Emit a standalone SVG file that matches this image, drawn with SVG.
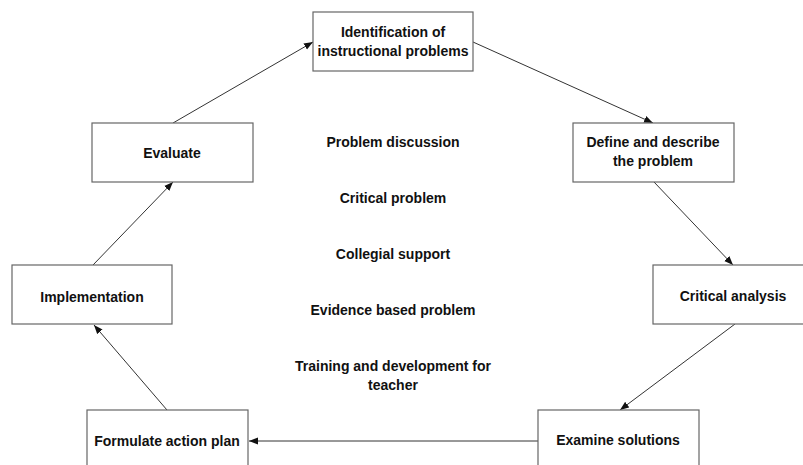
<svg xmlns="http://www.w3.org/2000/svg" width="803" height="465" viewBox="0 0 803 465">
<style>
.box{fill:#fff;stroke:#666;stroke-width:1.2}
.t{font-family:"Liberation Sans",Arial,sans-serif;font-weight:bold;font-size:14px;fill:#111;text-anchor:middle}
.c{stroke:#333;stroke-width:1;fill:none;marker-end:url(#ah)}
</style>
<defs>
<marker id="ah" markerUnits="userSpaceOnUse" markerWidth="10" markerHeight="8" refX="9" refY="4" orient="auto">
<path d="M0,0.5 L9,4 L0,7.5 Z" fill="#111"/>
</marker>
</defs>
<rect width="803" height="465" fill="#fff"/>
<g id="connectors">
<line class="c" x1="173" y1="123" x2="313" y2="42"/>
<line class="c" x1="473" y1="42" x2="653" y2="123"/>
<line class="c" x1="654" y1="182" x2="733" y2="265"/>
<line class="c" x1="735" y1="324" x2="620" y2="410"/>
<line class="c" x1="538" y1="441" x2="249" y2="441"/>
<line class="c" x1="167" y1="410" x2="94" y2="325"/>
<line class="c" x1="93" y1="265" x2="173" y2="182"/>
</g>
<g id="identification">
<rect class="box" x="313" y="12" width="160" height="59"/>
<text class="t" x="393" y="37">Identification of</text>
<text class="t" x="393" y="56">instructional problems</text>
</g>
<g id="define">
<rect class="box" x="573" y="123" width="161" height="59"/>
<text class="t" x="653" y="147">Define and describe</text>
<text class="t" x="653" y="166">the problem</text>
</g>
<g id="critical-analysis">
<rect class="box" x="653" y="265" width="160" height="59"/>
<text class="t" x="733" y="301">Critical analysis</text>
</g>
<g id="examine">
<rect class="box" x="538" y="410" width="161" height="60"/>
<text class="t" x="618" y="445">Examine solutions</text>
</g>
<g id="formulate">
<rect class="box" x="87" y="410" width="161" height="60"/>
<text class="t" x="167" y="446">Formulate action plan</text>
</g>
<g id="implementation">
<rect class="box" x="12" y="265" width="160" height="59"/>
<text class="t" x="92" y="302">Implementation</text>
</g>
<g id="evaluate">
<rect class="box" x="92" y="123" width="161" height="59"/>
<text class="t" x="172" y="158">Evaluate</text>
</g>
<g id="center-list">
<text class="t" x="393" y="147">Problem discussion</text>
<text class="t" x="393" y="203">Critical problem</text>
<text class="t" x="393" y="259">Collegial support</text>
<text class="t" x="393" y="315">Evidence based problem</text>
<text class="t" x="393" y="371">Training and development for</text>
<text class="t" x="393" y="390">teacher</text>
</g>
</svg>
